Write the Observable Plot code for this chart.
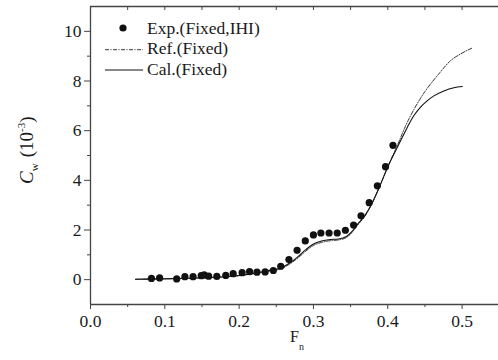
<!DOCTYPE html>
<html><head><meta charset="utf-8">
<script src="https://cdn.jsdelivr.net/npm/d3@7"></script>
<script src="https://cdn.jsdelivr.net/npm/@observablehq/plot@0.6"></script>
<style>body{margin:0;background:#fff} svg{display:block}</style>
</head><body><div id="chart"></div>
<script>
// Experimental points (Exp. Fixed, IHI)
const expFn = [0.082,0.093,0.116,0.127,0.138,0.149,0.153,0.159,0.170,0.182,0.192,0.204,0.214,0.224,0.235,0.246,0.256,0.267,0.278,0.289,0.300,0.310,0.321,0.332,0.343,0.354,0.364,0.375,0.386,0.397,0.407];
const expCw = [0.05,0.07,0.03,0.12,0.12,0.16,0.19,0.14,0.13,0.17,0.24,0.28,0.32,0.30,0.31,0.37,0.54,0.81,1.18,1.56,1.80,1.88,1.88,1.88,1.99,2.20,2.57,3.10,3.78,4.55,5.41];
// Calculated curve (Cal. Fixed)
const calFn = [0.0606,0.0942,0.1346,0.175,0.2086,0.2315,0.245,0.2557,0.2665,0.2773,0.2894,0.3001,0.3109,0.323,0.3338,0.3445,0.3513,0.359,0.3701,0.3791,0.3894,0.4001,0.4149,0.4262,0.435,0.4441,0.453,0.462,0.4755,0.489,0.5003];
const calCw = [0.016,0.032,0.06,0.108,0.2,0.32,0.4,0.46,0.64,0.88,1.2,1.44,1.56,1.62,1.64,1.74,1.92,2.22,2.62,3.1,3.78,4.55,5.45,6.13,6.6,6.95,7.2,7.4,7.6,7.73,7.78];
// Reference curve (Ref. Fixed)
const refFn = [0.0606,0.0942,0.1346,0.175,0.2086,0.2315,0.245,0.2557,0.2665,0.2773,0.2894,0.3001,0.3109,0.323,0.3338,0.3445,0.3513,0.359,0.3701,0.3791,0.3894,0.4001,0.4149,0.4226,0.4351,0.4509,0.4688,0.4845,0.498,0.5137];
const refCw = [0.016,0.03,0.055,0.1,0.19,0.3,0.37,0.43,0.6,0.83,1.14,1.38,1.5,1.57,1.6,1.7,1.88,2.18,2.6,3.08,3.77,4.55,5.55,6.1,6.85,7.61,8.29,8.82,9.09,9.33];

const xTicks = [0,0.1,0.2,0.3,0.4,0.5];
const xTickLabels = ["0.0","0.1","0.2","0.3","0.4","0.5"];
const xMinor = [0.05,0.15,0.25,0.35,0.45];
const yTicks = [0,2,4,6,8,10];
const yMinor = [1,3,5,7,9];
const legendLabels = ["Exp.(Fixed,IHI)","Ref.(Fixed)","Cal.(Fixed)"];

const font = "'Liberation Serif','Times New Roman',serif";
const axisColor = "#444";
const toRows = (xs, ys) => xs.map((x, i) => ({x, y: ys[i]}));

const plot = Plot.plot({
  width: 498, height: 360,
  marginLeft: 90, marginRight: 0, marginTop: 6, marginBottom: 56,
  style: {fontFamily: font, fontSize: "17.5px", background: "#fff", color: "#1a1a1a"},
  x: {domain: [0, 0.549]},
  y: {domain: [-1, 11]},
  marks: [
    Plot.ruleX([0], {stroke: axisColor, strokeWidth: 1.3}),
    Plot.ruleY([-1], {stroke: axisColor, strokeWidth: 1.3}),
    Plot.ruleY([11], {stroke: axisColor, strokeWidth: 1.3}),
    Plot.axisX({ticks: xTicks, tickFormat: (d, i) => xTickLabels[i], tickSize: 5, tickPadding: 5, label: null, stroke: axisColor, fill: "#1a1a1a"}),
    Plot.axisX({ticks: xMinor, tickFormat: () => "", tickSize: 3, label: null, stroke: axisColor}),
    Plot.axisX({anchor: "top", ticks: [...xTicks, ...xMinor], tickFormat: () => "", tickSize: -3, label: null, stroke: axisColor}),
    Plot.axisY({ticks: yTicks, tickSize: 6, tickPadding: 3, label: null, stroke: axisColor, fill: "#1a1a1a"}),
    Plot.axisY({ticks: yMinor, tickFormat: () => "", tickSize: 3, label: null, stroke: axisColor}),
    Plot.line(toRows(refFn, refCw), {x: "x", y: "y", stroke: "#222", strokeWidth: 0.9, strokeDasharray: "4,1.5,1,1.5", curve: "monotone-x"}),
    Plot.line(toRows(calFn, calCw), {x: "x", y: "y", stroke: "#111", strokeWidth: 1.1, curve: "monotone-x"}),
    Plot.dot(toRows(expFn, expCw), {x: "x", y: "y", r: 3.6, fill: "#111", stroke: "none"})
  ]
});

const svg = d3.select(plot);
// Legend
const lg = svg.append("g").attr("font-family", font).attr("font-size", 17.5).attr("fill", "#1a1a1a").attr("text-anchor", "start");
lg.append("circle").attr("cx", 123).attr("cy", 28).attr("r", 3.6).attr("fill", "#111");
lg.append("line").attr("x1", 105).attr("x2", 143).attr("y1", 49.7).attr("y2", 49.7).attr("stroke", "#222").attr("stroke-width", 0.9).attr("stroke-dasharray", "4,1.5,1,1.5");
lg.append("line").attr("x1", 105).attr("x2", 143).attr("y1", 70).attr("y2", 70).attr("stroke", "#111").attr("stroke-width", 1.1);
legendLabels.forEach((t, i) => {
  lg.append("text").attr("x", 147).attr("y", 34 + i * 20.3).attr("text-anchor", "start").text(t);
});
// X title
const xt = svg.append("text").attr("x", 290).attr("y", 342).attr("text-anchor", "start").attr("font-family", font).attr("font-size", 16).attr("fill", "#1a1a1a");
xt.append("tspan").text("F");
xt.append("tspan").attr("font-size", 10).attr("dy", 8).text("n");
// Y title
const yt = svg.append("text").attr("transform", "translate(33,184) rotate(-90)").attr("text-anchor", "start").attr("font-family", font).attr("font-size", 19).attr("fill", "#1a1a1a");
yt.append("tspan").attr("font-style", "italic").text("C");
yt.append("tspan").attr("font-size", 11).attr("dy", 5).text("w");
yt.append("tspan").attr("dy", -5).attr("dx", 6).text("(10");
yt.append("tspan").attr("font-size", 11).attr("dy", -8).text("-3");
yt.append("tspan").attr("dy", 8).text(")");

document.getElementById("chart").appendChild(plot);
</script>
</body></html>
